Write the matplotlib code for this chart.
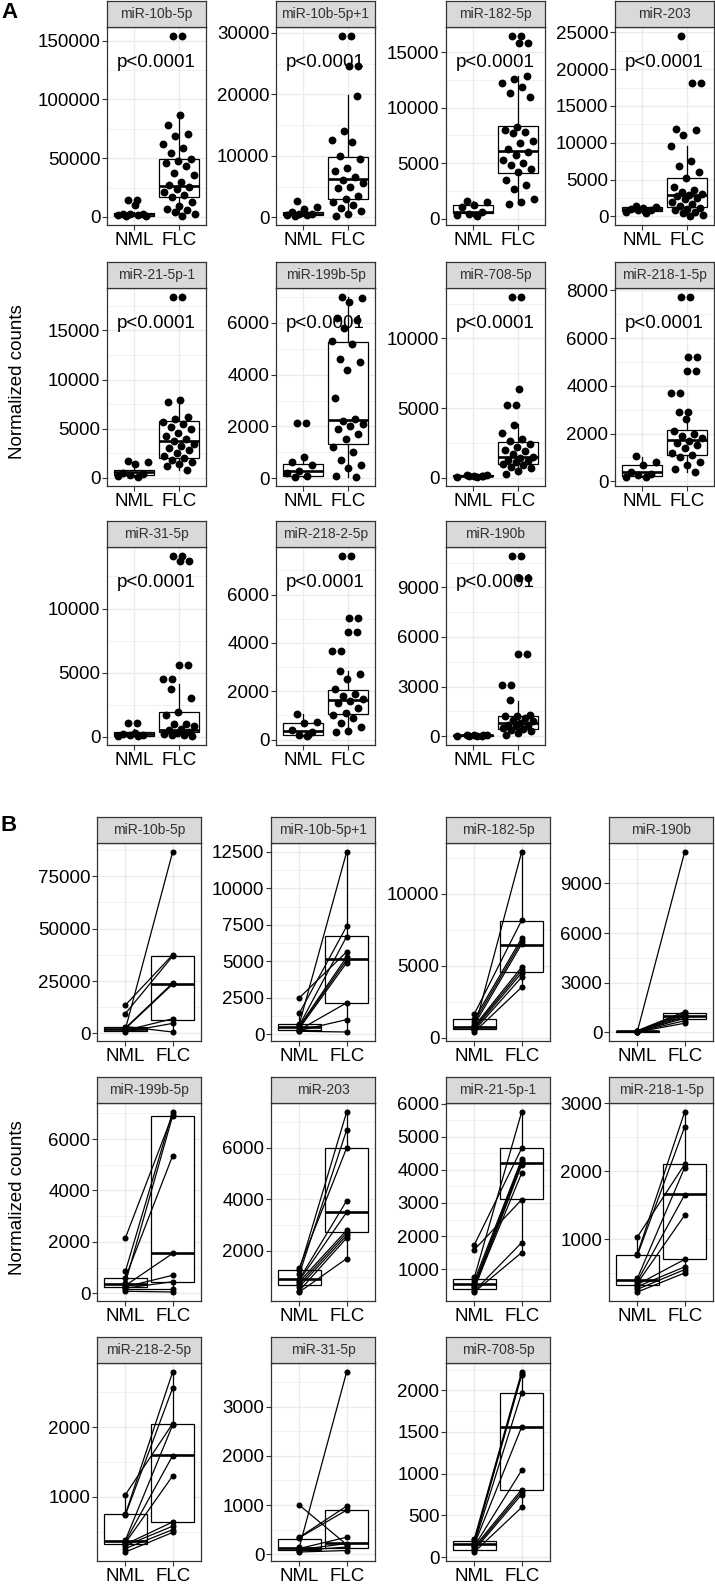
import numpy as np
import matplotlib.pyplot as plt

plt.rcParams['font.family'] = ['Liberation Sans', 'DejaVu Sans']

GROUPS = ['NML', 'FLC']

# ---------------- panel A: all samples (jittered points) ----------------
# box = [whisker low, Q1, median, Q3, whisker high]
a_10b_5p = dict(title='miR-10b-5p', ticks=[0, 50000, 100000, 150000],
    nml=[14000, 14000, 9800, 2800, 2500, 2200, 1900, 1500, 1000, 800],
    flc=[154000, 154000, 87000, 78000, 71000, 68500, 62000, 59000, 54500, 49000, 47500, 46000,
         43500, 37000, 36000, 30000, 27000, 25500, 23500, 21000, 19000, 17000, 12500, 9000,
         7000, 5500, 4000, 2500, 800],
    nml_box=[800, 900, 2200, 3400, 3900], flc_box=[800, 16800, 26700, 49200, 86200])
a_10b_5p_1 = dict(title='miR-10b-5p+1', ticks=[0, 10000, 20000, 30000],
    nml=[2600, 1600, 1300, 800, 600, 500, 400, 300, 200],
    flc=[29500, 29500, 24600, 24600, 19800, 14100, 12600, 12300, 10000, 9500, 8000, 7500,
         6500, 6000, 5500, 5000, 4800, 3500, 3000, 2500, 2000, 1500, 1000, 500, 200],
    nml_box=[200, 300, 550, 800, 1400], flc_box=[200, 2950, 6170, 9820, 19860])
a_182_5p = dict(title='miR-182-5p', ticks=[0, 5000, 10000, 15000],
    nml=[1630, 1500, 1250, 1100, 650, 400, 300, 250],
    flc=[16460, 16460, 15800, 15800, 12900, 12600, 12200, 11900, 11300, 11000, 8300, 8000,
         7800, 7700, 7000, 6800, 6300, 6000, 5700, 5300, 5000, 4800, 4500, 4200, 3500, 3000,
         2700, 1800, 1500, 1300],
    nml_box=[250, 500, 650, 1240, 1630], flc_box=[1300, 4140, 6130, 8350, 12900])
a_203 = dict(title='miR-203', ticks=[0, 5000, 10000, 15000, 20000, 25000],
    nml=[1400, 1300, 1200, 1000, 900, 800, 600, 400],
    flc=[24500, 18100, 18100, 11800, 11700, 11100, 9600, 7500, 6800, 6000, 5200, 4000, 3600,
         3300, 3100, 2900, 2700, 2500, 2300, 2000, 1700, 1400, 1200, 1000, 800, 600, 400,
         200, 50],
    nml_box=[400, 700, 1000, 1300, 1400], flc_box=[50, 1340, 2900, 5150, 9600])
a_21_5p_1 = dict(title='miR-21-5p-1', ticks=[0, 5000, 10000, 15000],
    nml=[1700, 1650, 1400, 500, 400, 300, 200, 100],
    flc=[18400, 18400, 7900, 7700, 6200, 6000, 5700, 5500, 5200, 5000, 4600, 4300, 4000,
         3800, 3500, 3300, 3000, 2800, 2500, 2200, 2000, 1800, 1600, 1400, 1200, 800],
    nml_box=[100, 330, 570, 840, 1400], flc_box=[800, 2080, 3790, 5760, 7870])
a_199b_5p = dict(title='miR-199b-5p', ticks=[0, 2000, 4000, 6000],
    nml=[2150, 2150, 820, 620, 500, 300, 200, 100, 50],
    flc=[7000, 6950, 6800, 6200, 6100, 5800, 5300, 5200, 4600, 4500, 4200, 3100, 2300, 2200,
         2100, 2000, 1900, 1700, 1500, 1200, 1000, 700, 500, 400, 100, 50],
    nml_box=[50, 100, 300, 560, 820], flc_box=[50, 1310, 2270, 5260, 7000])
a_708_5p = dict(title='miR-708-5p', ticks=[0, 5000, 10000],
    nml=[200, 180, 150, 150, 120, 100, 80, 50],
    flc=[12970, 12970, 6360, 5230, 5230, 3750, 3200, 2800, 2600, 2400, 2200, 2000, 1900,
         1700, 1500, 1400, 1300, 1200, 1100, 1000, 900, 800, 700, 500, 300],
    nml_box=[50, 90, 130, 170, 200], flc_box=[300, 950, 1500, 2560, 3870])
a_218_1_5p = dict(title='miR-218-1-5p', ticks=[0, 2000, 4000, 6000, 8000],
    nml=[1050, 800, 700, 400, 300, 250, 200, 180],
    flc=[7720, 7720, 5200, 5200, 4630, 4630, 3710, 3710, 2920, 2920, 2600, 2100, 2000, 1900,
         1800, 1700, 1600, 1500, 1400, 1200, 1100, 1000, 800, 700, 500, 400],
    nml_box=[180, 230, 370, 680, 1020], flc_box=[400, 1090, 1720, 2140, 2920])
a_31_5p = dict(title='miR-31-5p', ticks=[0, 5000, 10000],
    nml=[1040, 1040, 300, 200, 150, 100, 80, 50],
    flc=[14100, 14100, 13700, 13700, 5580, 5580, 4490, 4490, 3710, 2990, 1900, 1700, 1000,
         990, 800, 600, 500, 400, 300, 200, 150, 100, 50],
    nml_box=[50, 80, 210, 340, 600], flc_box=[50, 340, 545, 1950, 4100])
a_218_2_5p = dict(title='miR-218-2-5p', ticks=[0, 2000, 4000, 6000],
    nml=[1040, 750, 700, 400, 300, 200, 200, 150],
    flc=[7600, 7600, 5050, 5050, 4470, 4470, 3660, 3660, 2840, 2700, 2500, 2100, 1900, 1800,
         1700, 1600, 1500, 1300, 1100, 1000, 900, 700, 540, 370, 300],
    nml_box=[150, 200, 370, 680, 1040], flc_box=[300, 1040, 1620, 2060, 2840])
a_190b = dict(title='miR-190b', ticks=[0, 3000, 6000, 9000],
    nml=[80, 60, 50, 50, 40, 30, 20, 10],
    flc=[10900, 10900, 9560, 9560, 4990, 4990, 3100, 3100, 2200, 1300, 1250, 1200, 1100,
         1000, 900, 800, 700, 650, 600, 500, 450, 400, 300, 200, 100],
    nml_box=[10, 25, 45, 60, 80], flc_box=[60, 460, 820, 1250, 2150])

# ---------------- panel B: paired samples (nml[i] <-> flc[i]) ----------------
b_10b_5p = dict(title='miR-10b-5p', ticks=[0, 25000, 50000, 75000],
    nml=[2000, 13500, 9500, 2600, 2300, 1500, 800, 3300],
    flc=[86500, 37500, 36800, 24000, 23500, 7000, 4800, 700],
    nml_box=[800, 950, 2200, 3300, 3300], flc_box=[700, 6500, 23750, 37000, 37500])
b_10b_5p_1 = dict(title='miR-10b-5p+1', ticks=[0, 2500, 5000, 7500, 10000, 12500],
    nml=[700, 2500, 1450, 600, 550, 500, 400, 300, 250, 200],
    flc=[12500, 5650, 7400, 6700, 5300, 5100, 4900, 2150, 1000, 150],
    nml_box=[200, 280, 500, 730, 1450], flc_box=[150, 2170, 5190, 6720, 12500])
b_182_5p = dict(title='miR-182-5p', ticks=[0, 5000, 10000],
    nml=[600, 1650, 1300, 1100, 900, 800, 700, 600, 500, 390],
    flc=[12900, 8150, 6900, 6700, 6500, 4900, 4700, 4500, 4200, 3500],
    nml_box=[390, 580, 740, 1310, 1650], flc_box=[3500, 4540, 6450, 8110, 12900])
b_190b = dict(title='miR-190b', ticks=[0, 3000, 6000, 9000],
    nml=[60, 100, 80, 70, 50, 40, 30, 20],
    flc=[10900, 1250, 1150, 1050, 950, 850, 700, 550],
    nml_box=[20, 35, 55, 75, 100], flc_box=[550, 810, 1000, 1170, 1250])
b_199b_5p = dict(title='miR-199b-5p', ticks=[0, 2000, 4000, 6000],
    nml=[2150, 850, 600, 400, 300, 250, 200, 150, 80],
    flc=[6950, 7050, 5350, 6900, 1550, 700, 450, 150, 50],
    nml_box=[80, 230, 360, 600, 850], flc_box=[50, 450, 1560, 6880, 7050])
b_203 = dict(title='miR-203', ticks=[2000, 4000, 6000],
    nml=[1350, 1250, 1100, 900, 850, 800, 700, 600, 450, 400],
    flc=[6000, 7400, 6700, 3950, 3500, 2800, 2700, 2600, 2500, 1700],
    nml_box=[400, 660, 900, 1270, 1350], flc_box=[1700, 2750, 3530, 6000, 7400])
b_21_5p_1 = dict(title='miR-21-5p-1', ticks=[1000, 2000, 3000, 4000, 5000, 6000],
    nml=[1740, 1590, 750, 650, 550, 500, 450, 400, 340, 310],
    flc=[4650, 3100, 5750, 4320, 4270, 4200, 3900, 4150, 1800, 1500],
    nml_box=[310, 390, 545, 710, 750], flc_box=[1500, 3130, 4200, 4650, 5750])
b_218_1_5p = dict(title='miR-218-1-5p', ticks=[1000, 2000, 3000],
    nml=[1030, 780, 760, 420, 380, 350, 330, 300, 260, 220],
    flc=[2100, 2870, 2650, 2050, 1650, 1350, 700, 590, 550, 500],
    nml_box=[220, 330, 390, 760, 1030], flc_box=[500, 700, 1660, 2110, 2870])
b_218_2_5p = dict(title='miR-218-2-5p', ticks=[1000, 2000],
    nml=[1030, 750, 740, 380, 360, 340, 320, 300, 260, 210],
    flc=[2050, 2790, 2560, 2030, 1590, 1300, 640, 580, 530, 490],
    nml_box=[210, 320, 370, 750, 1030], flc_box=[490, 640, 1595, 2045, 2790])
b_31_5p = dict(title='miR-31-5p', ticks=[0, 1000, 2000, 3000],
    nml=[1000, 350, 340, 150, 120, 100, 80, 50],
    flc=[200, 980, 900, 3700, 350, 220, 150, 80],
    nml_box=[50, 100, 135, 320, 350], flc_box=[80, 134, 230, 904, 980])
b_708_5p = dict(title='miR-708-5p', ticks=[0, 500, 1000, 1500, 2000],
    nml=[220, 200, 180, 160, 150, 130, 120, 100, 80, 60],
    flc=[2220, 2200, 2180, 1970, 1560, 1040, 810, 780, 750, 595],
    nml_box=[60, 90, 155, 195, 220], flc_box=[595, 810, 1556, 1972, 2220])

PANELS_A = [a_10b_5p, a_10b_5p_1, a_182_5p, a_203,
            a_21_5p_1, a_199b_5p, a_708_5p, a_218_1_5p,
            a_31_5p, a_218_2_5p, a_190b]
PANELS_B = [b_10b_5p, b_10b_5p_1, b_182_5p, b_190b,
            b_199b_5p, b_203, b_21_5p_1, b_218_1_5p,
            b_218_2_5p, b_31_5p, b_708_5p]

# layout in pixels
W, H = 715, 1584
PANEL_H = 198
STRIP_H = 26
A_LEFT, A_W, A_TOP = [107, 276, 446, 615], 99, [27, 288, 547]
B_LEFT, B_W, B_TOP = [97, 271, 446, 609], 104, [843, 1103, 1363]

fig = plt.figure(figsize=(W / 100, H / 100), dpi=100)


def add_px_axes(left, top, width, height):
    return fig.add_axes([left / W, 1 - (top + height) / H, width / W, height / H])


def jitter(vals):
    # fixed, evenly spread horizontal offsets; repeated values sit side by side
    off = ((np.arange(len(vals)) * 0.618034 + 0.3) % 1 - 0.5) * 0.72
    for i in range(1, len(vals)):
        if vals[i] == vals[i - 1]:
            off[i] = off[i - 1] + 0.2 if off[i - 1] < 0.1 else off[i - 1] - 0.2
    return off


def draw_panel(d, left, top, width, paired):
    ax = add_px_axes(left, top, width, PANEL_H)
    allv = d['nml'] + d['flc']
    lo, hi = min(allv), max(allv)
    pad = 0.05 * (hi - lo)
    ax.set_ylim(lo - pad, hi + pad)
    ax.set_xlim(0.4, 2.6)

    ticks = d['ticks']
    step = ticks[1] - ticks[0]
    for y in np.arange(ticks[0] - step / 2, ticks[-1] + step, step):
        ax.axhline(y, color='#EBEBEB', lw=0.5, zorder=0)
    for y in ticks:
        ax.axhline(y, color='#EBEBEB', lw=1.0, zorder=0)
    for x in (1, 2):
        ax.axvline(x, color='#EBEBEB', lw=1.0, zorder=0)

    keys = ['whislo', 'q1', 'med', 'q3', 'whishi']
    stats = [dict(zip(keys, d['nml_box'])), dict(zip(keys, d['flc_box']))]
    ax.bxp(stats, positions=[1, 2], widths=0.9, showfliers=False, showcaps=False,
           patch_artist=True, manage_ticks=False, zorder=2,
           boxprops=dict(facecolor='white', edgecolor='black', lw=0.9),
           whiskerprops=dict(color='black', lw=0.9),
           medianprops=dict(color='black', lw=1.9))

    if paired:
        for a, b in zip(d['nml'], d['flc']):
            ax.plot([1, 2], [a, b], color='black', lw=0.9, zorder=3)
        ax.scatter([1] * len(d['nml']), d['nml'], s=19, color='black', zorder=4, lw=0)
        ax.scatter([2] * len(d['flc']), d['flc'], s=19, color='black', zorder=4, lw=0)
    else:
        ax.scatter(1 + jitter(d['nml']), d['nml'], s=32, color='black', zorder=4, lw=0)
        ax.scatter(2 + jitter(d['flc']), d['flc'], s=32, color='black', zorder=4, lw=0)
        ax.text(0.5, 0.82, 'p<0.0001', transform=ax.transAxes, ha='center', va='center',
                fontsize=13.5, zorder=5)

    ax.set_yticks(ticks)
    ax.set_yticklabels([str(t) for t in ticks])
    ax.set_xticks([1, 2])
    ax.set_xticklabels(GROUPS)
    ax.tick_params(direction='out', length=3.5, width=0.8, color='#333333',
                   labelsize=13.5, labelcolor='black', pad=1.3)
    for sp in ax.spines.values():
        sp.set_color('#333333')
        sp.set_linewidth(0.9)

    strip = add_px_axes(left, top - STRIP_H, width, STRIP_H)
    strip.set_facecolor('#D9D9D9')
    strip.set_xticks([])
    strip.set_yticks([])
    for sp in strip.spines.values():
        sp.set_color('#333333')
        sp.set_linewidth(0.9)
    strip.text(0.5, 0.5, d['title'], ha='center', va='center', fontsize=10,
               color='#333333', transform=strip.transAxes)


for i, d in enumerate(PANELS_A):
    draw_panel(d, A_LEFT[i % 4], A_TOP[i // 4], A_W, paired=False)
for i, d in enumerate(PANELS_B):
    draw_panel(d, B_LEFT[i % 4], B_TOP[i // 4], B_W, paired=True)

fig.text(18 / W, 1 - 382 / H, 'Normalized counts', rotation=90, ha='center', va='center',
         fontsize=13.5)
fig.text(18 / W, 1 - 1198 / H, 'Normalized counts', rotation=90, ha='center', va='center',
         fontsize=13.5)
fig.text(1 / W, 1 - 2 / H, 'A', fontsize=16, fontweight='bold', va='top', ha='left')
fig.text(1 / W, 1 - 815 / H, 'B', fontsize=16, fontweight='bold', va='top', ha='left')

fig.savefig('out.png', dpi=100)
